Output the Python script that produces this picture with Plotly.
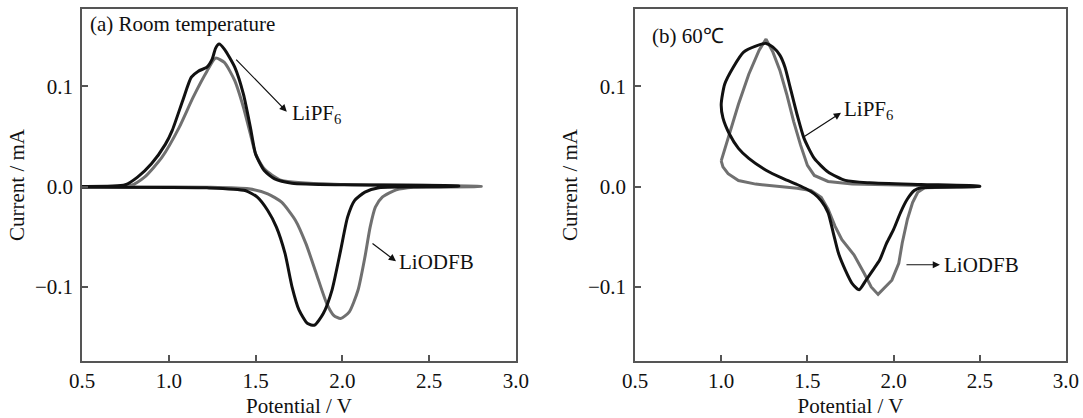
import plotly.graph_objects as go

# ---- (a) room temperature: closed CV loops (potential in V, current in mA)
a_lipf6_v = [0.50, 0.75, 0.82, 0.90, 0.98, 1.02, 1.08, 1.13, 1.17, 1.22, 1.25, 1.27, 1.29, 1.32,
             1.38, 1.43, 1.47, 1.50, 1.55, 1.61, 1.71, 2.01, 2.67,
             2.67, 2.21, 2.13, 2.07, 2.03, 1.99, 1.94, 1.89, 1.84, 1.80, 1.75, 1.71, 1.67, 1.62,
             1.57, 1.51, 1.44, 1.22, 0.50]
a_lipf6_i = [0.0, 0.0017, 0.0093, 0.0226, 0.042, 0.056, 0.0856, 0.109, 0.115, 0.119, 0.127, 0.138,
             0.142, 0.137, 0.119, 0.092, 0.059, 0.0325, 0.0159, 0.0076, 0.0033, 0.0017, 0.0007,
             0.0003, -0.0013, -0.0056, -0.014, -0.0305, -0.0637, -0.1035, -0.1267, -0.1383, -0.1367,
             -0.123, -0.100, -0.067, -0.0405, -0.0239, -0.0106, -0.004, -0.0013, -0.0007]

a_liodfb_v = [0.50, 0.78, 0.86, 0.96, 1.06, 1.14, 1.22, 1.27, 1.32, 1.38, 1.43, 1.47, 1.50, 1.55,
              1.65, 2.01, 2.80,
              2.80, 2.41, 2.31, 2.23, 2.19, 2.16, 2.13, 2.09, 2.04, 1.99, 1.95, 1.91, 1.85, 1.79,
              1.73, 1.65, 1.57, 1.46, 1.22, 0.50]
a_liodfb_i = [0.0, 0.001, 0.0093, 0.029, 0.059, 0.0889, 0.115, 0.128, 0.1237, 0.1055, 0.079, 0.0524,
              0.0325, 0.0176, 0.006, 0.002, 0.0003,
              0.0, -0.0007, -0.0033, -0.0106, -0.0206, -0.0405, -0.0703, -0.1035, -0.125, -0.1317,
              -0.1284, -0.1167, -0.0869, -0.057, -0.0338, -0.0156, -0.0073, -0.0023, -0.0007, -0.0003]

# ---- (b) 60 °C
b_lipf6_v = [1.00, 1.02, 1.07, 1.13, 1.20, 1.26, 1.30, 1.34, 1.37, 1.40, 1.44, 1.48, 1.54, 1.62,
             1.72, 1.86, 2.16, 2.50,
             2.50, 2.16, 2.12, 2.08, 2.04, 2.00, 1.96, 1.92, 1.88, 1.84, 1.80, 1.76, 1.72, 1.68,
             1.65, 1.62, 1.58, 1.54, 1.50, 1.44, 1.36, 1.26, 1.16, 1.10, 1.05, 1.01, 1.00]
b_lipf6_i = [0.082, 0.102, 0.119, 0.134, 0.140, 0.1427, 0.139, 0.131, 0.119, 0.0988, 0.0718, 0.0482,
             0.028, 0.0145, 0.0061, 0.0037, 0.002, 0.0003,
             0.0, -0.0013, -0.004, -0.0125, -0.026, -0.0428, -0.0563, -0.073, -0.0833, -0.0934,
             -0.1029, -0.0968, -0.0833, -0.0664, -0.0462, -0.026, -0.0142, -0.0074, -0.003, 0.002,
             0.0078, 0.0162, 0.028, 0.038, 0.0516, 0.0685, 0.082]

b_liodfb_v = [1.00, 1.04, 1.10, 1.16, 1.22, 1.26, 1.30, 1.34, 1.38, 1.42, 1.46, 1.50, 1.54, 1.62,
              1.76, 2.16, 2.50,
              2.50, 2.18, 2.14, 2.11, 2.08, 2.05, 2.03, 1.99, 1.95, 1.91, 1.87, 1.83, 1.77, 1.70,
              1.66, 1.62, 1.58, 1.52, 1.44, 1.32, 1.20, 1.10, 1.04, 1.01, 1.00]
b_liodfb_i = [0.0256, 0.048, 0.082, 0.112, 0.136, 0.147, 0.134, 0.116, 0.092, 0.065, 0.0415, 0.021,
              0.011, 0.005, 0.0024, 0.001, 0.0003,
              0.0, -0.0013, -0.0057, -0.0159, -0.0327, -0.0563, -0.0766, -0.0934, -0.1002, -0.1076,
              -0.1002, -0.0867, -0.0681, -0.053, -0.0395, -0.0226, -0.0108, -0.004, -0.0017, 0.0003,
              0.0024, 0.006, 0.0128, 0.0196, 0.0256]

panel_tags = ["(a) Room temperature", "(b) 60℃"]
x_ticks = [0.5, 1.0, 1.5, 2.0, 2.5, 3.0]
y_ticks = [-0.1, 0.0, 0.1]

BLACK = "#111111"
GREY = "#707070"
SERIF = "Liberation Serif, Times New Roman, serif"
AXIS = "#555555"
FS = 21

fig = go.Figure()

traces = [
    (a_lipf6_v, a_lipf6_i, BLACK, "x", "y", "spline"),
    (a_liodfb_v, a_liodfb_i, GREY, "x", "y", "spline"),
    (b_liodfb_v, b_liodfb_i, GREY, "x2", "y2", "linear"),
    (b_lipf6_v, b_lipf6_i, BLACK, "x2", "y2", "spline"),
]
# grey drawn first in (a) so black lies on top
order = [1, 0, 2, 3]
for k in order:
    v, i, col, xa, ya, shape = traces[k]
    line = dict(color=col, width=3, shape=shape)
    if shape == "spline":
        line["smoothing"] = 0.6
    fig.add_trace(go.Scatter(x=v, y=i, mode="lines", line=line, xaxis=xa, yaxis=ya,
                             showlegend=False, hoverinfo="skip"))

text_font = dict(family=SERIF, size=FS, color="#111")

common_x = dict(range=[0.5, 3.0], tickvals=x_ticks, ticktext=[f"{t:.1f}" for t in x_ticks],
                ticks="inside", ticklen=6, tickcolor=AXIS, tickwidth=1.5,
                showline=True, linecolor=AXIS, linewidth=1.5, mirror=True,
                showgrid=False, zeroline=False, tickfont=text_font,
                title=dict(text="Potential / V", font=text_font, standoff=6))
common_y = dict(range=[-0.174, 0.177], tickvals=y_ticks, ticktext=["−0.1", "0.0", "0.1"],
                ticks="inside", ticklen=6, tickcolor=AXIS, tickwidth=1.5,
                showline=True, linecolor=AXIS, linewidth=1.5, mirror=True,
                showgrid=False, zeroline=False, tickfont=text_font, ticklabelstandoff=3,
                title=dict(text="Current / mA", font=text_font, standoff=5))

fig.update_layout(
    width=1083, height=418,
    margin=dict(l=82, r=17, t=9, b=57, autoexpand=False),
    paper_bgcolor="white", plot_bgcolor="white",
    xaxis=dict(domain=[0, 0.441], anchor="y", **common_x),
    yaxis=dict(domain=[0, 1], anchor="x", **common_y),
    xaxis2=dict(domain=[0.562, 1], anchor="y2", **common_x),
    yaxis2=dict(domain=[0, 1], anchor="x2", **common_y),
)

ann = []
ann.append(dict(x=0.535, y=0.162, xref="x", yref="y", text=panel_tags[0], showarrow=False,
                xanchor="left", yanchor="middle", font=text_font))
ann.append(dict(x=0.585, y=0.15, xref="x2", yref="y2", text=panel_tags[1], showarrow=False,
                xanchor="left", yanchor="middle", font=text_font))

# labelled arrows: (axis, tail, head, text, text anchor point)
arrows = [
    ("", (1.38, 0.128), (1.68, 0.0746), "LiPF<sub>6</sub>", (1.70, 0.072)),
    ("", (2.165, -0.0557), (2.309, -0.0746), "LiODFB", (2.315, -0.0756)),
    ("2", (1.469, 0.0483), (1.695, 0.0735), "LiPF<sub>6</sub>", (1.700, 0.0766)),
    ("2", (2.066, -0.078), (2.269, -0.078), "LiODFB", (2.280, -0.078)),
]
for ax_id, tail, head, label, pos in arrows:
    ann.append(dict(x=head[0], y=head[1], ax=tail[0], ay=tail[1],
                    xref="x" + ax_id, yref="y" + ax_id, axref="x" + ax_id, ayref="y" + ax_id,
                    text="", showarrow=True, arrowhead=2, arrowsize=1.2, arrowwidth=1.2,
                    arrowcolor="#111"))
    ann.append(dict(x=pos[0], y=pos[1], xref="x" + ax_id, yref="y" + ax_id, text=label,
                    showarrow=False, xanchor="left", yanchor="middle", font=text_font))
fig.update_layout(annotations=ann)

fig.write_html("out.html")
